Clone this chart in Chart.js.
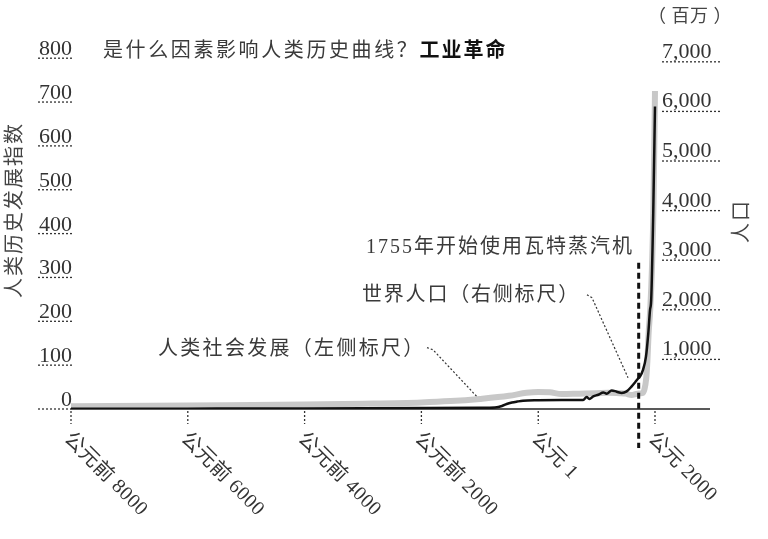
<!DOCTYPE html>
<html><head><meta charset="utf-8">
<script src="https://cdn.jsdelivr.net/npm/chart.js@4.4.1/dist/chart.umd.min.js"></script>
<style>html,body{margin:0;padding:0;background:#fff;overflow:hidden}canvas{display:block}</style>
</head><body>
<canvas id="c" width="768" height="539"></canvas>
<script>
// ---- data ----
const popYears  = [-8000,-6000,-4000,-2000,-1000,-740,-620,-540,-450,-360,-260,1,400,770,830,876,944,1030,1115,1172,1258,1344,1430,1515,1601,1658,1714,1745,1795,1845,1885,1915,1935,1970,2000];
const popValues = [5,7,10,18,25,32,60,100,130,150,168,178,182,181,242,202,254,288,335,308,375,349,323,355,456,536,620,660,790,1050,1520,2000,2200,3950,6100];
const devYears  = [-8000,-6000,-4000,-3000,-2000,-1500,-1000,-500,-200,1,200,400,700,1000,1200,1400,1500,1600,1700,1780,1820,1850,1870,1890,1920,1950,1975,2000];
const devValues = [6,8,10,12,15,18,23,30,37,39,38,34,35,36,37,36,35,32,35,36,45,70,110,170,230,330,470,725];
const xTickValues = [-8000,-6000,-4000,-2000,1,2000];
const xTickLabels = ['公元前 8000','公元前 6000','公元前 4000','公元前 2000','公元 1','公元 2000'];
const leftTicks = [0,100,200,300,400,500,600,700,800];
const rightTicks = [1000,2000,3000,4000,5000,6000,7000];
const rightTickLabels = ['1,000','2,000','3,000','4,000','5,000','6,000','7,000'];
const steamYear = 1755;
const steamTopPop = 2950;
const titleText = '是什么因素影响人类历史曲线？';
const titleBold = '工业革命';
const leftTitle = '人类历史发展指数';
const rightTitle = '人口';
const unitText = '（ 百万 ）';
const steamText = '1755年开始使用瓦特蒸汽机';
const popLabel = '世界人口（右侧标尺）';
const devLabel = '人类社会发展（左侧标尺）';
// leader lines in data coordinates
const devLeader = [[-1904,140],[-1801,135],[-1048,28]];   // left scale
const popLeader = [[835,2304],[921,2244],[1538,631]];     // right scale

const FONT = '"Liberation Serif","Noto Sans CJK SC",serif';
const TXT = '#333';

function dotted(ctx, x1, y1, x2, y2, w, dash, color){
  ctx.save(); ctx.beginPath(); ctx.setLineDash(dash); ctx.lineWidth = w; ctx.strokeStyle = color || TXT;
  ctx.moveTo(x1,y1); ctx.lineTo(x2,y2); ctx.stroke(); ctx.restore();
}
function text(ctx, s, x, y, size, opts){
  opts = opts || {};
  ctx.save();
  ctx.font = (opts.weight||'normal') + ' ' + size + 'px ' + FONT;
  ctx.fillStyle = opts.color || TXT;
  ctx.textAlign = opts.align || 'left';
  ctx.textBaseline = opts.baseline || 'middle';
  ctx.letterSpacing = (opts.ls||0) + 'px';
  if (opts.rot !== undefined){ ctx.translate(x,y); ctx.rotate(opts.rot); ctx.fillText(s,0,0); }
  else ctx.fillText(s,x,y);
  const w = ctx.measureText(s).width;
  ctx.restore();
  return w;
}

const decor = {
  id: 'decor',
  beforeDatasetsDraw(chart){
    const {ctx, chartArea:a, scales:{x, yL}} = chart;
    const y0 = yL.getPixelForValue(0);
    ctx.save();
    ctx.beginPath(); ctx.lineWidth = 1.5; ctx.strokeStyle = '#222';
    ctx.moveTo(a.left, y0); ctx.lineTo(a.right, y0); ctx.stroke();
    ctx.restore();
    dotted(ctx, 38, y0, a.left, y0, 1.3, [2,2]);
    xTickValues.forEach(v => {
      const px = x.getPixelForValue(v);
      dotted(ctx, px, y0+2, px, y0+15, 1.3, [2,2]);
    });
  },
  afterDatasetsDraw(chart){
    const {ctx, chartArea:a, scales:{x, yL, yR}} = chart;
    const sx = x.getPixelForValue(steamYear) - 2;
    ctx.save(); ctx.beginPath(); ctx.setLineDash([6,4]); ctx.lineWidth = 3; ctx.strokeStyle = '#111';
    ctx.moveTo(sx, yR.getPixelForValue(steamTopPop)); ctx.lineTo(sx, a.bottom + 39); ctx.stroke(); ctx.restore();
    const lead = (pts, sc) => {
      ctx.save(); ctx.beginPath(); ctx.setLineDash([2,2]); ctx.lineWidth = 1.2; ctx.strokeStyle = '#333';
      pts.forEach((p,i)=>{ const px = x.getPixelForValue(p[0]), py = sc.getPixelForValue(p[1]);
        if(i===0) ctx.moveTo(px,py); else ctx.lineTo(px,py); });
      ctx.stroke(); ctx.restore();
    };
    lead(devLeader, yL); lead(popLeader, yR);
  },
  afterDraw(chart){
    const {ctx, chartArea:a, scales:{x, yL, yR}} = chart;
    leftTicks.forEach(v => {
      const py = yL.getPixelForValue(v);
      text(ctx, String(v), 72, py-3, 22, {align:'right', baseline:'alphabetic'});
      if (v !== 0) dotted(ctx, 38, py, 72, py, 1.3, [2,2]);
    });
    rightTicks.forEach((v,i) => {
      const py = yR.getPixelForValue(v);
      text(ctx, rightTickLabels[i], 662, py-4, 22, {baseline:'alphabetic'});
      dotted(ctx, 662, py, 720, py, 1.3, [2,2]);
    });
    xTickValues.forEach((v,i) => {
      const px = x.getPixelForValue(v);
      text(ctx, xTickLabels[i], px-4, 436, 20, {rot: Math.PI/4, ls:0.5});
    });
    const w = text(ctx, titleText, 103, 52, 20, {ls:2.6, color:'#3a3a3a'});
    text(ctx, titleBold, 103 + w, 52, 20, {weight:'bold', color:'#111', ls:2});
    text(ctx, leftTitle, 16, 210, 20, {rot:-Math.PI/2, align:'center', ls:2, color:'#444'});
    text(ctx, rightTitle, 743, 221, 20, {rot:-Math.PI/2, align:'center', ls:2, color:'#444'});
    text(ctx, unitText, 648, 17, 18, {color:'#444', ls:0.5});
    text(ctx, steamText, 366, 248, 20, {ls:2, color:'#3a3a3a'});
    text(ctx, popLabel, 362, 296, 20, {ls:1.8, color:'#3a3a3a'});
    text(ctx, devLabel, 158, 350, 20, {ls:2.3, color:'#3a3a3a'});
  }
};

new Chart(document.getElementById('c'), {
  type: 'line',
  data: {
    datasets: [
      { label:'世界人口', data: popYears.map((yr,i)=>({x:yr, y:popValues[i]})), yAxisID:'yR',
        borderColor:'#111', borderWidth:2.5, pointRadius:0, cubicInterpolationMode:'monotone', fill:false, order:1 },
      { label:'人类社会发展', data: devYears.map((yr,i)=>({x:yr, y:devValues[i]})), yAxisID:'yL',
        borderColor:'#c8c8c8', borderWidth:6, pointRadius:0, cubicInterpolationMode:'monotone', fill:false, order:2 }
    ]
  },
  options: {
    responsive:false, animation:false, devicePixelRatio:1, events:[],
    layout:{ padding:{ left:71, right:58, top:40, bottom:130 } },
    plugins:{ legend:{display:false}, tooltip:{enabled:false} },
    scales:{
      x:{ type:'linear', min:-8000, max:2942, display:false },
      yL:{ type:'linear', position:'left', min:0, max:841.5, display:false },
      yR:{ type:'linear', position:'right', min:0, max:7440, display:false }
    }
  },
  plugins:[decor]
});
</script>
</body></html>
